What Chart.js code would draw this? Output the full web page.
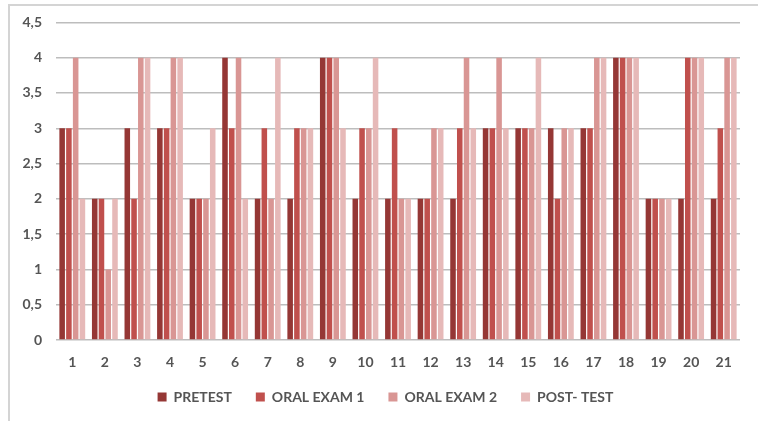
<!DOCTYPE html>
<html>
<head>
<meta charset="utf-8">
<script src="https://cdn.jsdelivr.net/npm/chart.js@4"></script>
<style>
    html, body { margin: 0; padding: 0; background: #fff; }
    #frame {
        position: absolute; left: 8px; top: 4px; width: 750px; height: 417px;
        border-top: 2px solid #d4d4d4; border-left: 2px solid #d4d4d4;
        box-sizing: border-box;
    }
    #wrap { position: absolute; left: 0; top: 0; width: 758px; height: 421px; }
</style>
</head>
<body>
<div id="frame"></div>
<div id="wrap"><canvas id="scoreChart"></canvas></div>
<script>
const categories = ['1', '2', '3', '4', '5', '6', '7', '8', '9', '10', '11', '12', '13', '14', '15', '16', '17', '18', '19', '20', '21'];
const pretest   = [3, 2, 3, 3, 2, 4, 2, 2, 4, 2, 2, 2, 2, 3, 3, 3, 3, 4, 2, 2, 2];
const oralExam1 = [3, 2, 2, 3, 2, 3, 3, 3, 4, 3, 3, 2, 3, 3, 3, 2, 3, 4, 2, 4, 3];
const oralExam2 = [4, 1, 4, 4, 2, 4, 2, 3, 4, 3, 2, 3, 4, 4, 3, 3, 4, 4, 2, 4, 4];
const postTest  = [2, 2, 4, 4, 3, 2, 4, 3, 3, 4, 2, 3, 3, 3, 4, 3, 4, 4, 2, 4, 4];
const yTickLabels = ['0', '0,5', '1', '1,5', '2', '2,5', '3', '3,5', '4', '4,5'];

const font = { family: 'Lato, "DejaVu Sans", sans-serif', size: 14, weight: 'bold' };
const textColor = '#555555';

new Chart(document.getElementById('scoreChart'), {
    type: 'bar',
    data: {
        labels: categories,
        datasets: [
            { label: 'PRETEST', data: pretest, backgroundColor: '#953735' },
            { label: 'ORAL EXAM 1', data: oralExam1, backgroundColor: '#c0504d' },
            { label: 'ORAL EXAM 2', data: oralExam2, backgroundColor: '#d99694' },
            { label: 'POST- TEST', data: postTest, backgroundColor: '#e6b9b8' }
        ]
    },
    options: {
        responsive: true,
        maintainAspectRatio: false,
        animation: false,
        categoryPercentage: 0.83,
        barPercentage: 0.82,
        layout: { padding: { left: 13, right: 0, top: 15, bottom: 7 } },
        scales: {
            x: {
                grid: { display: false },
                border: { display: false },
                ticks: { color: textColor, font: font, padding: 6, maxRotation: 0 },
                afterFit: s => { s.height = 40; }
            },
            y: {
                min: 0,
                max: 4.5,
                ticks: {
                    stepSize: 0.5,
                    color: textColor,
                    font: font,
                    padding: 14,
                    callback: (v, i) => yTickLabels[i]
                },
                grid: { color: '#bdbdbd', lineWidth: 1.5, drawTicks: false },
                border: { display: false },
                afterFit: s => { s.width = 43; }
            },
            // empty right margin so the legend centres like the original
            yRight: {
                type: 'linear',
                position: 'right',
                ticks: { display: false },
                grid: { display: false },
                border: { display: false },
                afterFit: s => { s.width = 18; }
            }
        },
        plugins: {
            legend: {
                position: 'bottom',
                labels: {
                    boxWidth: 9, boxHeight: 9, padding: 10, color: textColor, font: font,
                    // wider gaps between items, like the spreadsheet legend
                    generateLabels: chart => {
                        const items = Chart.defaults.plugins.legend.labels.generateLabels(chart);
                        items.forEach((it, i) => { if (i < items.length - 1) it.text += '\u2002\u2002'; });
                        return items;
                    }
                }
            },
            tooltip: { enabled: false }
        }
    }
});
</script>
</body>
</html>
